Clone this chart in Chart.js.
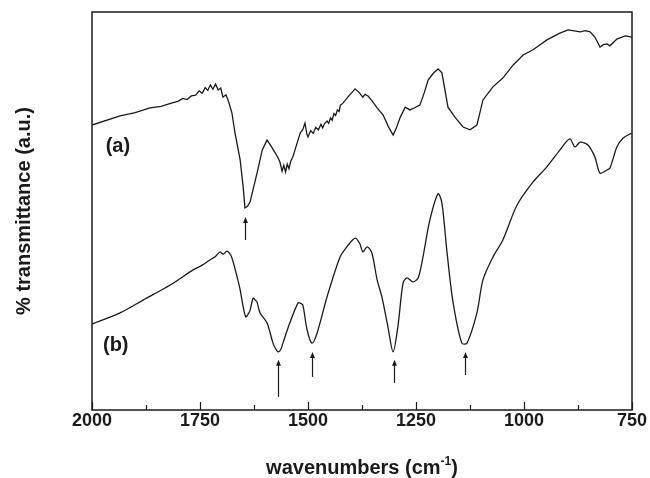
<!DOCTYPE html>
<html lang="en">
<head>
  <meta charset="UTF-8">
  <title>FTIR spectra</title>
  <script src="https://cdn.jsdelivr.net/npm/chart.js"></script>
  <style>
    body { margin: 0; background: #fff; }
    .wrap { width: 650px; height: 478px; }
  </style>
</head>
<body>
  <div class="wrap"><canvas id="irChart" width="650" height="478"></canvas></div>

  <script>
    // spectrum (a)
    const wnA = [2000, 1935, 1900, 1866, 1840, 1820, 1800, 1790, 1780, 1770, 1760, 1752, 1745, 1738, 1732, 1726, 1720,
      1714, 1708, 1702, 1697, 1690, 1685, 1676, 1669, 1657, 1650, 1646, 1640, 1634, 1618, 1606, 1595, 1586, 1576, 1570,
      1565, 1560, 1556, 1552, 1548, 1544, 1540, 1535, 1526, 1518, 1512, 1507, 1503, 1500, 1494, 1488, 1482, 1476, 1470,
      1466, 1462, 1456, 1452, 1448, 1444, 1440, 1436, 1432, 1428, 1425, 1419, 1405, 1391, 1382, 1373, 1368, 1361, 1350,
      1340, 1326, 1314, 1303, 1295, 1287, 1275, 1264, 1252, 1241, 1230, 1222, 1210, 1199, 1190, 1176, 1160, 1141, 1125,
      1109, 1095, 1072, 1049, 1025, 1002, 979, 947, 917, 898, 880, 870, 858, 847, 836, 824, 816, 808, 801, 785, 766, 750];
    const trA = [71.6, 73.9, 74.7, 75.9, 76.3, 77.0, 77.6, 78.3, 78.0, 78.9, 79.1, 80.2, 79.6, 81.0, 80.3, 81.7, 80.6,
      81.9, 80.4, 80.9, 78.6, 79.2, 77.9, 74.6, 69.6, 62.8, 56.0, 50.8, 51.2, 52.3, 59.5, 65.3, 67.8, 66.4, 64.6, 63.5,
      62.3, 60.0, 61.5, 59.8, 61.8, 60.6, 62.5, 63.6, 66.8, 69.6, 70.5, 72.1, 69.5, 68.6, 70.2, 69.5, 71.0, 70.4, 71.8,
      70.9, 71.9, 72.6, 72.0, 73.4, 72.8, 74.5, 74.0, 75.4, 75.0, 76.6, 77.1, 79.0, 80.7, 79.8, 78.6, 79.3, 78.9, 77.4,
      75.9, 74.1, 71.2, 69.1, 71.0, 73.4, 76.1, 75.4, 76.0, 76.6, 80.0, 82.9, 84.6, 85.7, 84.7, 76.1, 73.6, 71.1, 70.4,
      71.6, 77.9, 81.2, 83.4, 86.7, 89.2, 90.5, 93.0, 94.7, 95.5, 95.2, 95.0, 95.3, 95.0, 93.7, 91.2, 91.8, 92.0, 91.5,
      93.2, 94.0, 93.7];

    // spectrum (b)
    const wnB = [2000, 1935, 1882, 1819, 1766, 1745, 1727, 1715, 1704, 1696, 1688, 1682, 1676, 1664, 1657, 1650, 1644,
      1638, 1634, 1627, 1622, 1618, 1611, 1595, 1581, 1575, 1569, 1563, 1558, 1542, 1523, 1517, 1512, 1502, 1491, 1479,
      1456, 1426, 1410, 1391, 1380, 1373, 1363, 1352, 1340, 1329, 1315, 1303, 1292, 1280, 1271, 1257, 1245, 1234, 1218,
      1199, 1190, 1178, 1164, 1144, 1132, 1109, 1095, 1072, 1049, 1016, 979, 947, 917, 894, 882, 870, 852, 836, 824,
      808, 801, 785, 771, 750];
    const trB = [21.6, 24.4, 27.6, 31.4, 35.2, 36.4, 37.7, 38.5, 39.7, 39.2, 39.9, 39.4, 38.2, 33.4, 30.2, 25.9, 23.4,
      24.2, 25.1, 28.1, 27.6, 27.1, 24.4, 21.9, 16.8, 15.4, 14.6, 15.2, 16.8, 21.9, 26.9, 26.8, 26.4, 20.1, 16.8, 19.3,
      28.4, 38.4, 41.0, 43.2, 41.8, 39.7, 41.0, 39.4, 32.7, 28.4, 20.9, 14.6, 20.9, 31.9, 33.2, 32.2, 33.2, 38.4, 47.7,
      54.3, 52.0, 39.4, 26.9, 16.8, 16.8, 24.4, 32.7, 38.4, 42.7, 51.5, 57.3, 61.1, 65.3, 68.1, 66.1, 67.3, 66.6, 63.6,
      59.5, 60.3, 60.8, 66.1, 68.3, 69.6];

    // marked bands: wavenumber, arrow tip and tail
    const arrowWn = [1646, 1569, 1491, 1301, 1137];
    const arrowTip = [48.5, 12.6, 14.6, 12.6, 14.6];
    const arrowTail = [42.7, 3.3, 8.3, 6.8, 8.8];

    const labelledTicks = [2000, 1750, 1500, 1250, 1000, 750];
    const minorTicks = [1875, 1625, 1375, 1125, 875];

    const curveNames = ['(a)', '(b)'];
    const curveNameWn = [1940, 1945];
    const curveNameTr = [66.3, 16.1];

    const FONT = "'Liberation Sans', Arial, sans-serif";
    const INK = '#1a1a1a';

    const toPoints = (xs, ys) => xs.map((x, i) => ({ x: x, y: ys[i] }));

    const spectrumExtras = {
      id: 'spectrumExtras',
      afterDraw(chart) {
        const { ctx, chartArea: a, scales: { x, y } } = chart;
        ctx.save();
        ctx.strokeStyle = INK;
        ctx.fillStyle = INK;

        // frame
        ctx.lineWidth = 1.5;
        ctx.strokeRect(a.left, a.top, a.right - a.left, a.bottom - a.top);

        // inward ticks on the bottom axis
        ctx.lineWidth = 1.2;
        labelledTicks.concat(minorTicks).forEach(v => {
          const px = Math.round(x.getPixelForValue(v)) + 0.5;
          const len = labelledTicks.includes(v) ? 8 : 5;
          ctx.beginPath();
          ctx.moveTo(px, a.bottom);
          ctx.lineTo(px, a.bottom - len);
          ctx.stroke();
        });

        // arrows under the marked bands
        ctx.lineWidth = 1.2;
        arrowWn.forEach((w, i) => {
          const px = Math.round(x.getPixelForValue(w)) + 0.5;
          const top = y.getPixelForValue(arrowTip[i]);
          const bot = y.getPixelForValue(arrowTail[i]);
          ctx.beginPath();
          ctx.moveTo(px, bot);
          ctx.lineTo(px, top + 4);
          ctx.stroke();
          ctx.beginPath();
          ctx.moveTo(px, top);
          ctx.lineTo(px - 2.5, top + 6);
          ctx.lineTo(px + 2.5, top + 6);
          ctx.closePath();
          ctx.fill();
        });

        // curve names
        ctx.font = 'bold 20px ' + FONT;
        ctx.textAlign = 'center';
        ctx.textBaseline = 'middle';
        curveNames.forEach((t, i) => {
          ctx.fillText(t, x.getPixelForValue(curveNameWn[i]), y.getPixelForValue(curveNameTr[i]));
        });

        // x axis title with superscript
        const main = 'wavenumbers (cm';
        const sup = '-1';
        const tail = ')';
        ctx.textBaseline = 'alphabetic';
        ctx.textAlign = 'left';
        const bigFont = 'bold 20px ' + FONT;
        const supFont = 'bold 12px ' + FONT;
        ctx.font = bigFont;
        const wMain = ctx.measureText(main).width;
        const wTail = ctx.measureText(tail).width;
        ctx.font = supFont;
        const wSup = ctx.measureText(sup).width;
        const total = wMain + wSup + wTail;
        let sx = (a.left + a.right) / 2 - total / 2;
        const base = 474;
        ctx.font = bigFont;
        ctx.fillText(main, sx, base);
        sx += wMain;
        ctx.font = supFont;
        ctx.fillText(sup, sx, base - 9);
        sx += wSup;
        ctx.font = bigFont;
        ctx.fillText(tail, sx, base);
        ctx.restore();
      }
    };

    const ctx = document.getElementById('irChart').getContext('2d');
    const irChart = new Chart(ctx, {
      type: 'line',
      data: {
        datasets: [
          {
            label: '(a)',
            data: toPoints(wnA, trA),
            borderColor: INK,
            borderWidth: 1.3,
            pointRadius: 0,
            tension: 0,
            fill: false
          },
          {
            label: '(b)',
            data: toPoints(wnB, trB),
            borderColor: INK,
            borderWidth: 1.3,
            pointRadius: 0,
            tension: 0.3,
            fill: false
          }
        ]
      },
      options: {
        responsive: false,
        animation: false,
        layout: { padding: { left: 8, right: 18, top: 12, bottom: 0 } },
        plugins: {
          legend: { display: false },
          tooltip: { enabled: false }
        },
        scales: {
          x: {
            type: 'linear',
            reverse: true,
            min: 750,
            max: 2000,
            border: { display: false },
            grid: { display: false, drawTicks: false },
            afterBuildTicks(scale) {
              scale.ticks = labelledTicks.map(v => ({ value: v }));
            },
            afterFit(scale) { scale.height = 68; },
            ticks: {
              padding: 0,
              color: INK,
              font: { family: FONT, size: 18, weight: 'bold' },
              maxRotation: 0,
              callback: v => String(v)
            }
          },
          y: {
            min: 0,
            max: 100,
            border: { display: false },
            grid: { display: false, drawTicks: false },
            ticks: { display: false },
            afterFit(scale) { scale.width = 84; },
            title: {
              display: true,
              text: '% transmittance (a.u.)',
              color: INK,
              padding: { top: 4, bottom: 0 },
              font: { family: FONT, size: 20, weight: 'bold' }
            }
          }
        }
      },
      plugins: [spectrumExtras]
    });
  </script>
</body>
</html>
